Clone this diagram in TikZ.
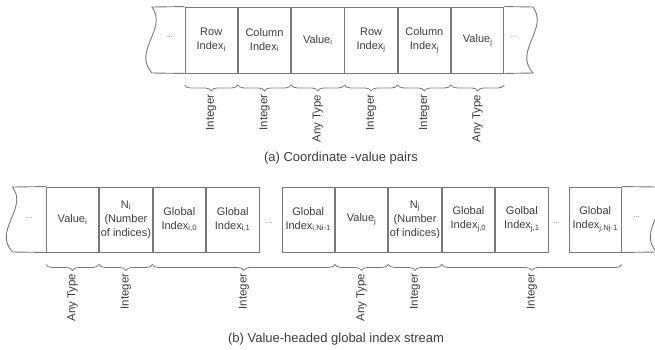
\documentclass[tikz,border=0pt]{standalone}
\usepackage{fontspec}
\setmainfont{Liberation Sans}
\usetikzlibrary{decorations.pathreplacing,calc}
\definecolor{edgegray}{RGB}{120,120,120}
\definecolor{inkgray}{RGB}{60,60,60}
\definecolor{dotgray}{RGB}{130,130,130}

\begin{document}
\begin{tikzpicture}[x=1pt,y=-1pt,
  cell/.style={draw=edgegray, line width=0.9pt, minimum width=52.4pt, minimum height=66pt,
    inner sep=0pt, align=center, text=inkgray, font=\fontsize{11}{14}\selectfont},
  cellb/.style={cell, minimum width=52.5pt, minimum height=65pt},
  tape/.style={draw=edgegray, line width=0.9pt},
  dots/.style={text=dotgray, font=\fontsize{8}{8}\selectfont, inner sep=0pt},
  bracedec/.style={draw=edgegray, line width=0.8pt, decorate,
    decoration={brace, mirror, amplitude=6pt}},
  typelbl/.style={rotate=90, anchor=east, inner sep=0pt, text=inkgray,
    font=\fontsize{11.5}{13}\selectfont},
  caption/.style={text=inkgray, font=\fontsize{13}{15}\selectfont, inner sep=0pt}]

\useasboundingbox (0,0) rectangle (655,349);
\clip (0,0) rectangle (655,349);

% ---------- (a) coordinate-value pairs ----------
\node[cell] (a1) at (211.2,40) {Row\\Index\textsubscript{i}};
\node[cell, anchor=west] (a2) at (a1.east) {Column\\Index\textsubscript{i}};
\node[cell, anchor=west] (a3) at (a2.east) {Value\textsubscript{i}};
\node[cell, anchor=west] (a4) at (a3.east) {Row\\Index\textsubscript{j}};
\node[cell, anchor=west] (a5) at (a4.east) {Column\\Index\textsubscript{j}};
\node[cell, anchor=west] (a6) at (a5.east) {Value\textsubscript{j}};

% torn tape ends
\draw[tape] (a1.north west) -- (152,7) .. controls (168,29) and (132,51) .. (152,73) -- (a1.south west);
\draw[tape] (a6.north east) -- (533,7) .. controls (549,29) and (513,51) .. (533,73) -- (a6.south east);
\node[dots] (ad1) at (169.5,37.5) {...};
\node[dots] (ad2) at (514,37.5) {...};

% type braces
\foreach \c/\t in {a1/Integer, a2/Integer, a3/Any Type, a4/Integer, a5/Integer, a6/Any Type}{
  \draw[bracedec] ([yshift=-11.5pt]\c.south west) -- ([yshift=-11.5pt]\c.south east);
  \node[typelbl] (t\c) at ([yshift=-21pt]\c.south) {\t};
}

\node[caption] (capa) at (341,158) {(a) Coordinate -value pairs};

% ---------- (b) value-headed global index stream ----------
\node[cellb] (b1) at (72.5,219.5) {Value\textsubscript{i}};
\node[cellb, anchor=west] (b2) at (b1.east) {N\textsubscript{i}\\(Number\\of indices)};
\node[cellb, anchor=west] (b3) at (b2.east) {Global\\Index\textsubscript{i,0}};
\node[cellb, anchor=west] (b4) at (b3.east) {Global\\Index\textsubscript{i,1}};

\node[cellb] (b5) at (308.25,219.5) {Global\\Index\textsubscript{i,Ni-1}};
\node[cellb, anchor=west] (b6) at (b5.east) {Value\textsubscript{j}};
\node[cellb, anchor=west] (b7) at (b6.east) {N\textsubscript{j}\\(Number\\of indices)};
\node[cellb, anchor=west] (b8) at (b7.east) {Global\\Index\textsubscript{j,0}};
\node[cellb, anchor=west] (b9) at (b8.east) {Golbal\\Index\textsubscript{j,1}};

\node[cellb] (b10) at (595.25,219.5) {Global\\Index\textsubscript{j,Nj-1}};

% torn tape ends
\draw[tape] (b1.north west) -- (12.5,187) .. controls (28.5,208.7) and (-7.5,230.3) .. (12.5,252) -- (b1.south west);
\draw[tape] (b10.north east) -- (656.5,187) .. controls (672.5,208.7) and (636.5,230.3) .. (656.5,252) -- (b10.south east);

\node[dots] (bd1) at (29,218) {...};
\node[dots] (bd2) at (269.3,223) {...};
\node[dots] (bd3) at (556.7,223) {...};
\node[dots] (bd4) at (636.5,217) {...};

% type braces
\draw[bracedec] ([yshift=-12pt]b1.south west) -- ([yshift=-12pt]b1.south east);
\draw[bracedec] ([yshift=-12pt]b2.south west) -- ([yshift=-12pt]b2.south east);
\draw[bracedec] ([yshift=-12pt]b3.south west) -- ([yshift=-12pt]b5.south east);
\draw[bracedec] ([yshift=-12pt]b6.south west) -- ([yshift=-12pt]b6.south east);
\draw[bracedec] ([yshift=-12pt]b7.south west) -- ([yshift=-12pt]b7.south east);
\draw[bracedec] ([yshift=-12pt]b8.south west) -- ([yshift=-12pt]b10.south east);

\coordinate (m1) at ($(b3.south west)!0.5!(b5.south east)$);
\coordinate (m2) at ($(b8.south west)!0.5!(b10.south east)$);

\node[typelbl] (tb1) at ([yshift=-21pt]b1.south) {Any Type};
\node[typelbl] (tb2) at ([yshift=-21pt]b2.south) {Integer};
\node[typelbl] (tb3) at ([yshift=-21pt]m1) {Integer};
\node[typelbl] (tb4) at ([yshift=-21pt]b6.south) {Any Type};
\node[typelbl] (tb5) at ([yshift=-21pt]b7.south) {Integer};
\node[typelbl] (tb6) at ([yshift=-21pt]m2) {Integer};

\node[caption] (capb) at (336,339) {(b) Value-headed global index stream};
\end{tikzpicture}
\end{document}
